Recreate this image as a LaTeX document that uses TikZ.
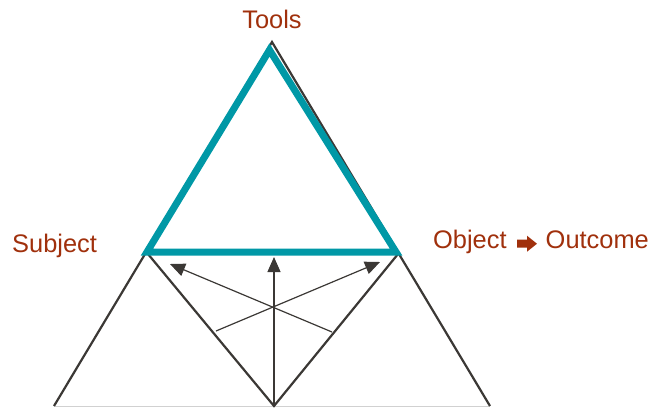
\documentclass[tikz,border=0pt]{standalone}
\usepackage{fontspec}
\setmainfont{Liberation Sans}
\usetikzlibrary{arrows.meta}
\definecolor{labelred}{HTML}{A0300C}
\definecolor{toolteal}{HTML}{0098A6}
\definecolor{linegray}{HTML}{3B3835}
\tikzset{
  label text/.style={anchor=base, inner sep=0pt, text=labelred, font=\fontsize{25.5}{28}\selectfont},
  outer edge/.style={draw=linegray, line width=2.2bp},
  teal edge/.style={draw=toolteal, line width=7bp, line join=miter},
  mediate/.style={draw=linegray, line width=1.2bp, -{Triangle[length=15bp,width=13bp]}},
}

\begin{document}
\begin{tikzpicture}[x=1bp,y=-1bp]
\useasboundingbox (0,0) rectangle (656,407);
% corners of the big triangle
\coordinate (top) at (272,42);
\coordinate (bl) at (54,406);
\coordinate (br) at (490,406);
\coordinate (mid) at (274,406);
% teal (tools) triangle
\coordinate (tA) at (269.5,50);
\coordinate (tB) at (147,252);
\coordinate (tC) at (396,252);
% inner v
\coordinate (vl) at (148,254);
\coordinate (vr) at (398,254);
\coordinate (tailL) at (216,331);
\coordinate (tailR) at (332,332);
\coordinate (tipL) at (170,264);
\coordinate (tipR) at (380,262);
\coordinate (tipM) at (274,257);
\draw[draw=black!18, line width=0.8bp] (bl) -- (br);
\draw[outer edge] (bl) -- (top) -- (br);
\draw[outer edge] (vl) -- (mid) -- (vr);
\draw[mediate] (mid) -- (tipM);
\draw[mediate] (tailL) -- (tipR);
\draw[mediate] (tailR) -- (tipL);
\draw[teal edge] (tA) -- (tB) -- (tC) -- cycle;
% labels
\node[label text] (tools) at (272,28) {Tools};
\node[label text, anchor=base west] (subject) at (12,252) {Subject};
\node[label text, anchor=base west] (object) at (433,248) {Object};
\node[label text, anchor=base east] (outcome) at (649,248) {Outcome};
\fill[labelred] (517,239.7) -- (527,239.7) -- (527,235.7) -- (537,243.7) -- (527,251.7) -- (527,247.7) -- (517,247.7) -- cycle;
\end{tikzpicture}
\end{document}
